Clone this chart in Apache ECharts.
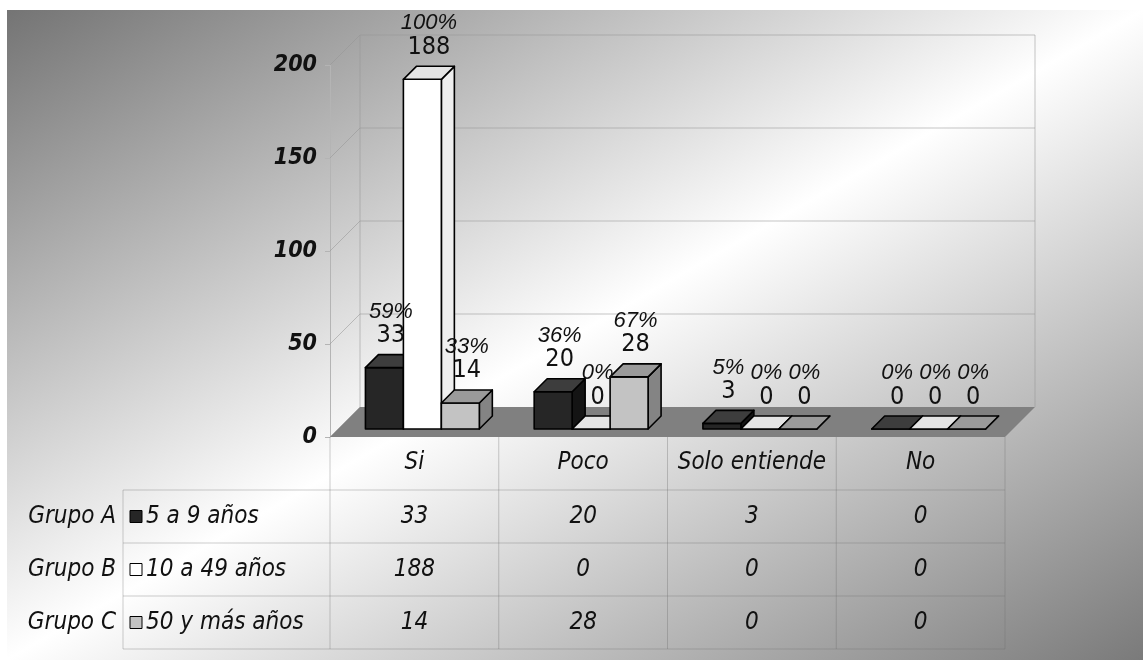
<!DOCTYPE html>
<html>
<head>
<meta charset="utf-8">
<script src="https://cdn.jsdelivr.net/npm/echarts@6/dist/echarts.min.js"></script>
<style>
html, body { margin: 0; padding: 0; background: #fff; }
#chart { width: 1143px; height: 660px; }
</style>
</head>
<body>
<div id="chart"></div>
<script>
// datos
const categories = ['Si', 'Poco', 'Solo entiende', 'No']
const groupNames = ['Grupo A', 'Grupo B', 'Grupo C']
const ageLabels = ['5 a 9 años', '10 a 49 años', '50 y más años']
const grupoA = [33, 20, 3, 0]
const grupoB = [188, 0, 0, 0]
const grupoC = [14, 28, 0, 0]
const yTicks = [0, 50, 100, 150, 200]

const series = [grupoA, grupoB, grupoC]

// estilos
const NARROW = "'Liberation Sans Narrow', 'DejaVu Sans Condensed', 'Liberation Sans', sans-serif"
const REGULAR = "'Liberation Sans', Arial, sans-serif"
const faces = [
    { front: '#262626', top: '#3d3d3d', side: '#141414' },
    { front: '#ffffff', top: '#e4e4e4', side: '#efefef' },
    { front: '#c3c3c3', top: '#9a9a9a', side: '#848484' }
]
const WALL = 30        // profundidad de la pared del fondo
const BAR_SHIFT = 8    // las barras están un poco dentro del suelo
const BAR_DEPTH = 13   // profundidad de cada barra
const BAR_RATIO = 0.225
const ROW_H = 53
const LEGEND_X = 123
const TABLE_FONT = 'italic 24px ' + NARROW
const gridLine = 'rgba(150,150,150,0.55)'
const tableLine = 'rgba(110,110,110,0.35)'

const rowTotals = series.map(s => s.reduce((a, b) => a + b, 0))

const chart = echarts.init(document.getElementById('chart'))

function frameItem(params, api) {
    const band = api.size([1, 0])[0]
    const xl = api.coord([0, 0])[0] - band / 2
    const xr = api.coord([categories.length - 1, 0])[0] + band / 2
    const y0 = api.coord([0, 0])[1]
    const yTop = api.coord([0, yTicks[yTicks.length - 1]])[1]
    const children = []

    // suelo
    children.push({
        type: 'polygon',
        shape: { points: [[xl, y0], [xr, y0], [xr + WALL, y0 - WALL], [xl + WALL, y0 - WALL]] },
        style: { fill: '#808080' }
    })
    // pared del fondo y lateral
    yTicks.forEach(t => {
        const y = api.coord([0, t])[1]
        children.push({
            type: 'line',
            shape: { x1: xl, y1: y, x2: xl + WALL, y2: y - WALL },
            style: { stroke: gridLine, lineWidth: 1 }
        })
        if (t > 0) {
            children.push({
                type: 'line',
                shape: { x1: xl + WALL, y1: y - WALL, x2: xr + WALL, y2: y - WALL },
                style: { stroke: gridLine, lineWidth: 1 }
            })
        }
    })
    ;[xl + WALL, xr + WALL].forEach(x => {
        children.push({
            type: 'line',
            shape: { x1: x, y1: yTop - WALL, x2: x, y2: y0 - WALL },
            style: { stroke: gridLine, lineWidth: 1 }
        })
    })

    // tabla de datos
    const yEnd = y0 + ROW_H * 4
    for (let i = 0; i <= categories.length; i++) {
        const x = xl + band * i
        children.push({
            type: 'line',
            shape: { x1: x, y1: y0, x2: x, y2: yEnd },
            style: { stroke: tableLine, lineWidth: 1 }
        })
    }
    children.push({
        type: 'line',
        shape: { x1: LEGEND_X, y1: y0 + ROW_H, x2: LEGEND_X, y2: yEnd },
        style: { stroke: tableLine, lineWidth: 1 }
    })
    for (let r = 1; r <= 4; r++) {
        children.push({
            type: 'line',
            shape: { x1: LEGEND_X, y1: y0 + ROW_H * r, x2: xr, y2: y0 + ROW_H * r },
            style: { stroke: tableLine, lineWidth: 1 }
        })
    }
    series.forEach((s, r) => {
        const cy = y0 + ROW_H * (r + 1) + ROW_H / 2
        children.push({
            type: 'text',
            style: {
                text: groupNames[r], x: LEGEND_X - 7, y: cy, align: 'right', verticalAlign: 'middle',
                font: TABLE_FONT, fill: '#111'
            }
        })
        children.push({
            type: 'rect',
            shape: { x: LEGEND_X + 7, y: cy - 6, width: 12, height: 12 },
            style: { fill: faces[r].front, stroke: '#000', lineWidth: 1 }
        })
        children.push({
            type: 'text',
            style: {
                text: ageLabels[r], x: LEGEND_X + 23, y: cy, align: 'left', verticalAlign: 'middle',
                font: TABLE_FONT, fill: '#111'
            }
        })
        s.forEach((v, c) => {
            children.push({
                type: 'text',
                style: {
                    text: String(v), x: api.coord([c, 0])[0], y: cy, align: 'center', verticalAlign: 'middle',
                    font: TABLE_FONT, fill: '#111'
                }
            })
        })
    })
    return { type: 'group', children }
}

function barSeries(idx) {
    const data = series[idx]
    const f = faces[idx]
    return {
        type: 'custom',
        name: groupNames[idx],
        data: data.map((v, i) => [i, v]),
        encode: { x: 0, y: 1 },
        clip: false,
        z: 3,
        renderItem: (params, api) => {
            const ci = api.value(0)
            const v = api.value(1)
            const base = api.coord([ci, 0])
            const top = api.coord([ci, v])
            const band = api.size([1, 0])[0]
            const w = band * BAR_RATIO
            const cx = base[0] + (idx - 1) * w + BAR_SHIFT
            const x0 = cx - w / 2
            const x1 = cx + w / 2
            const yb = base[1] - BAR_SHIFT
            const yt = top[1] - BAR_SHIFT
            const d = BAR_DEPTH
            const stroke = { stroke: '#000', lineWidth: 1.6, lineJoin: 'round' }
            const pct = rowTotals[idx] ? Math.round(v / rowTotals[idx] * 100) : 0
            const lx = cx + d / 2
            const vy = yt - 32
            return {
                type: 'group',
                children: [
                    {
                        type: 'polygon',
                        shape: { points: [[x1, yt], [x1 + d, yt - d], [x1 + d, yb - d], [x1, yb]] },
                        style: Object.assign({ fill: f.side }, stroke)
                    },
                    {
                        type: 'rect',
                        shape: { x: x0, y: yt, width: w, height: Math.max(yb - yt, 0) },
                        style: Object.assign({ fill: f.front }, stroke)
                    },
                    {
                        type: 'polygon',
                        shape: { points: [[x0, yt], [x1, yt], [x1 + d, yt - d], [x0 + d, yt - d]] },
                        style: Object.assign({ fill: f.top }, stroke)
                    },
                    {
                        type: 'text',
                        z2: 100,
                        style: {
                            text: pct + '%', x: lx, y: vy - 24, align: 'center', verticalAlign: 'middle',
                            font: 'italic 22px ' + REGULAR, fill: '#111'
                        }
                    },
                    {
                        type: 'text',
                        z2: 100,
                        style: {
                            text: String(v), x: lx, y: vy, align: 'center', verticalAlign: 'middle',
                            font: '25px ' + NARROW, fill: '#111'
                        }
                    }
                ]
            }
        }
    }
}

const option = {
    animation: false,
    backgroundColor: '#ffffff',
    graphic: [
        {
            type: 'rect',
            z: -10,
            shape: { x: 7, y: 10, width: 1136, height: 650 },
            style: {
                fill: new echarts.graphic.LinearGradient(295, -155, 855, 825, [
                    { offset: 0, color: '#747474' },
                    { offset: 0.5, color: '#ffffff' },
                    { offset: 1, color: '#7a7a7a' }
                ], true)
            }
        }
    ],
    grid: { left: 330, right: 138, top: 65, bottom: 223 },
    xAxis: {
        type: 'category',
        data: categories,
        axisLine: { show: false },
        axisTick: { show: false },
        axisLabel: {
            interval: 0,
            margin: 14,
            color: '#111',
            fontFamily: NARROW,
            fontStyle: 'italic',
            fontSize: 24
        }
    },
    yAxis: {
        type: 'value',
        min: 0,
        max: 200,
        interval: 50,
        axisLine: { show: true, lineStyle: { color: '#b4b4b4' } },
        axisTick: { show: true, length: 5, lineStyle: { color: '#b4b4b4' } },
        splitLine: { show: false },
        axisLabel: {
            margin: 13,
            color: '#111',
            fontFamily: NARROW,
            fontStyle: 'italic',
            fontWeight: 'bold',
            fontSize: 23
        }
    },
    series: [
        {
            type: 'custom',
            name: 'marco',
            data: [[0, 0]],
            encode: { x: 0, y: 1 },
            clip: false,
            z: 1,
            silent: true,
            renderItem: frameItem
        },
        barSeries(0),
        barSeries(1),
        barSeries(2)
    ]
}

chart.setOption(option)
window.addEventListener('resize', () => chart.resize())
</script>
</body>
</html>
